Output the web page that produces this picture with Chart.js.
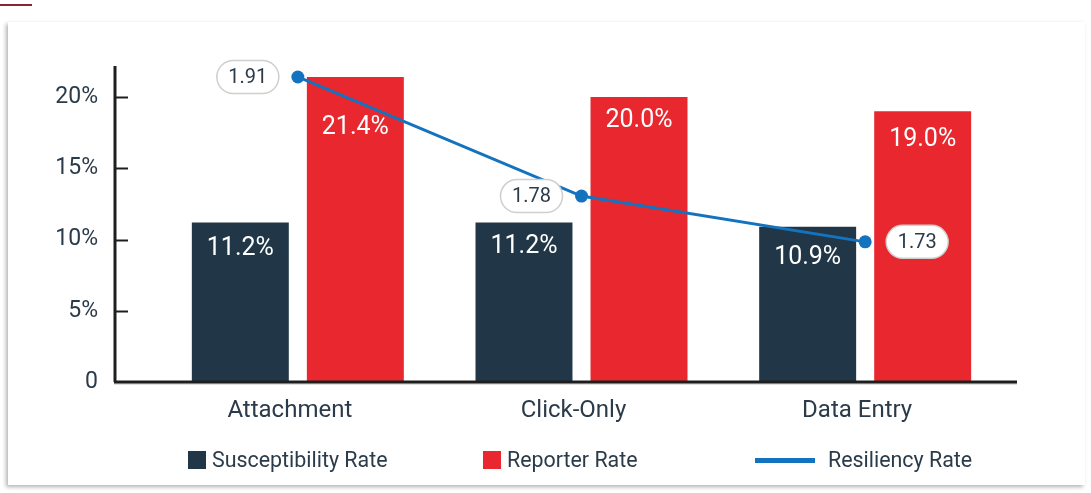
<!DOCTYPE html>
<html>
<head>
<meta charset="utf-8">
<script src="https://cdn.jsdelivr.net/npm/chart.js@4.4.1/dist/chart.umd.min.js"></script>
<style>
    html, body { margin: 0; padding: 0; background: #fff; }
    body { width: 1091px; height: 493px; position: relative; overflow: hidden; font-family: Roboto, sans-serif; }
    .top-rule { position: absolute; left: 0; top: 4px; width: 32px; height: 2px; background: #8b2332; }
    .card { position: absolute; left: 8px; top: 22px; width: 1077px; height: 463px; background: #fff;
            box-shadow: -2px 2px 4px rgba(0,0,0,0.3); }
    #chart-wrap { position: absolute; left: 0; top: 0; width: 1091px; height: 493px; }
    .legend-box { position: absolute; top: 451px; width: 18px; height: 18px; }
    .legend-line { position: absolute; top: 458px; width: 60px; height: 5px; background: #1473bf; }
    .legend-text { position: absolute; top: 447px; font-size: 21.4px; line-height: 26px; color: #2b3b4a; white-space: nowrap; }
</style>
</head>
<body>
<div class="top-rule"></div>
<div class="card"></div>
<div id="chart-wrap"><canvas id="mainChart" width="1091" height="493"></canvas></div>
<div class="legend-box" style="left:188px;background:#213747"></div>
<div class="legend-text" style="left:212px">Susceptibility Rate</div>
<div class="legend-box" style="left:483px;background:#e8282e"></div>
<div class="legend-text" style="left:507px">Reporter Rate</div>
<div class="legend-line" style="left:755px"></div>
<div class="legend-text" style="left:828px">Resiliency Rate</div>
<script>
// Data
const categories = ['Attachment', 'Click-Only', 'Data Entry'];
const susceptibilityRate = [11.2, 11.2, 10.9];
const reporterRate = [21.4, 20.0, 19.0];
const resiliencyRate = [1.91, 1.78, 1.73];
const yTicks = [0, 5, 10, 15, 20];

const DARK = '#213747';
const RED = '#e8282e';
const BLUE = '#1473bf';
const TEXT = '#2b3b4a';

// how far below the bar top each value label sits (px)
const labelDrop = [[26, 24, 31], [51, 24, 28]];

// axis lines + tick marks drawn by hand so they can run past the bar area
const axisLines = {
    id: 'axisLines',
    afterDatasetsDraw(chart) {
        const ctx = chart.ctx;
        const y = chart.scales.y;
        const top = chart.chartArea.top;
        const bottom = y.getPixelForValue(0);
        ctx.save();
        ctx.strokeStyle = '#1e1e1e';
        ctx.lineWidth = 3;
        ctx.beginPath();
        ctx.moveTo(115, top);
        ctx.lineTo(115, bottom);
        ctx.stroke();
        ctx.lineWidth = 2;
        yTicks.filter(v => v > 0).forEach(v => {
            const py = Math.round(y.getPixelForValue(v)) + 0.5;
            ctx.beginPath();
            ctx.moveTo(115, py);
            ctx.lineTo(128, py);
            ctx.stroke();
        });
        ctx.lineWidth = 3;
        ctx.beginPath();
        ctx.moveTo(114, bottom);
        ctx.lineTo(1017, bottom);
        ctx.stroke();
        ctx.strokeStyle = 'rgba(0,0,0,0.25)';
        ctx.lineWidth = 1;
        ctx.beginPath();
        ctx.moveTo(114, bottom + 2);
        ctx.lineTo(1017, bottom + 2);
        ctx.stroke();
        ctx.restore();
    }
};

// white value labels inside bars, pill labels beside the line points
const valueLabels = {
    id: 'valueLabels',
    afterDatasetsDraw(chart) {
        const ctx = chart.ctx;
        ctx.save();
        ctx.font = '25px Roboto';
        ctx.fillStyle = '#fff';
        ctx.textAlign = 'center';
        ctx.textBaseline = 'middle';
        [0, 1].forEach(di => {
            chart.getDatasetMeta(di).data.forEach((bar, i) => {
                const v = chart.data.datasets[di].data[i];
                ctx.fillText(v.toFixed(1) + '%', bar.x, bar.y + labelDrop[di][i]);
            });
        });

        const meta = chart.getDatasetMeta(2);
        ctx.font = '20px Roboto';
        meta.data.forEach((pt, i) => {
            const w = 62, h = 33, r = h / 2;
            const left = i < 2 ? pt.x - 19 - w : pt.x + 21;
            const top = pt.y - h / 2;
            ctx.beginPath();
            ctx.roundRect(left, top, w, h, r);
            ctx.fillStyle = '#fff';
            ctx.fill();
            ctx.strokeStyle = '#cfcfcf';
            ctx.lineWidth = 1.5;
            ctx.stroke();
            ctx.fillStyle = TEXT;
            ctx.fillText(resiliencyRate[i].toFixed(2), left + w / 2, pt.y + 1);
        });
        ctx.restore();
    }
};

const ctx = document.getElementById('mainChart').getContext('2d');
const mainChart = new Chart(ctx, {
    data: {
        labels: categories,
        datasets: [
            {
                type: 'bar',
                label: 'Susceptibility Rate',
                data: susceptibilityRate,
                backgroundColor: DARK,
                categoryPercentage: 0.811,
                barPercentage: 0.843,
                order: 1
            },
            {
                type: 'bar',
                label: 'Reporter Rate',
                data: reporterRate,
                backgroundColor: RED,
                categoryPercentage: 0.811,
                barPercentage: 0.843,
                order: 1
            },
            {
                type: 'line',
                label: 'Resiliency Rate',
                data: resiliencyRate,
                yAxisID: 'y1',
                borderColor: BLUE,
                backgroundColor: BLUE,
                borderWidth: 3,
                pointRadius: 6.5,
                pointBackgroundColor: BLUE,
                pointBorderWidth: 0,
                tension: 0,
                order: 0
            }
        ]
    },
    options: {
        responsive: false,
        animation: false,
        layout: { padding: { top: 66, right: 84, left: 0, bottom: 0 } },
        plugins: {
            legend: { display: false },
            tooltip: { enabled: false }
        },
        scales: {
            x: {
                grid: { display: false, drawTicks: false },
                border: { display: false },
                ticks: { color: TEXT, font: { family: 'Roboto', size: 24 }, padding: 15, labelOffset: -8 },
                afterFit(scale) { scale.height = 111; }
            },
            y: {
                min: 0,
                max: 22.18,
                grid: { display: false, drawTicks: false },
                border: { display: false },
                afterBuildTicks(scale) { scale.ticks = yTicks.map(v => ({ value: v })); },
                ticks: {
                    color: TEXT,
                    font: { family: 'Roboto', size: 23 },
                    padding: 58,
                    callback: v => v === 0 ? '0' : v + '%'
                },
                afterFit(scale) {
                    scale.width = 156;
                    scale.paddingTop = 0;
                    scale.paddingBottom = 0;
                }
            },
            y1: {
                display: false,
                min: 1.577,
                max: 1.922
            }
        }
    },
    plugins: [axisLines, valueLabels]
});
</script>
</body>
</html>
